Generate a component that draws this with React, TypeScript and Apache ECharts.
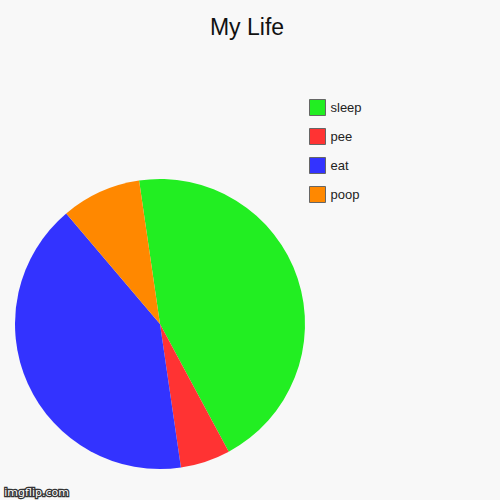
import * as echarts from 'echarts'
import React, { useEffect, useRef } from 'react'

// values (degrees out of 360)
const categories = ['sleep', 'pee', 'eat', 'poop']
const values = [160, 20, 148, 32]
const colors = ['#22ee22', '#ff3333', '#3333ff', '#ff8800']

const App: React.FC = () => {
  const chartRef = useRef<HTMLDivElement>(null)

  useEffect(() => {
    const chart = echarts.init(chartRef.current!, undefined, { renderer: 'svg' })
    chart.setOption({
      animation: false,
      backgroundColor: '#f8f8f8',
      textStyle: { fontFamily: 'Liberation Sans, Arial, sans-serif' },
      title: {
        text: 'My Life',
        left: 247,
        top: 15,
        padding: 0,
        textAlign: 'center',
        textStyle: { fontSize: 23, fontWeight: 'normal', color: '#111' }
      },
      legend: {
        orient: 'vertical',
        left: 309,
        top: 99,
        padding: 0,
        itemWidth: 16,
        itemHeight: 16,
        itemGap: 12,
        icon: 'rect',
        selectedMode: false,
        data: categories,
        itemStyle: { borderColor: '#666', borderWidth: 1 },
        textStyle: { fontSize: 13, color: '#222', lineHeight: 16 }
      },
      series: [
        {
          type: 'pie',
          center: [160, 324],
          radius: 145,
          startAngle: 98.3,
          clockwise: true,
          label: { show: false },
          labelLine: { show: false },
          emphasis: { disabled: true },
          data: categories.map((name, i) => ({
            name,
            value: values[i],
            itemStyle: { color: colors[i] }
          }))
        }
      ],
      graphic: [
        {
          type: 'text',
          left: 3,
          top: 486,
          style: {
            text: 'imgflip.com',
            fontSize: 11,
            fontFamily: 'DejaVu Sans, sans-serif',
            fill: '#fff',
            stroke: '#333',
            lineWidth: 2.5
          }
        }
      ]
    })
    return () => {
      chart.dispose()
    }
  }, [])

  return (
    <div
      ref={chartRef}
      style={{ position: 'fixed', left: 0, top: 0, width: 500, height: 500 }}
    />
  )
}

export default App
